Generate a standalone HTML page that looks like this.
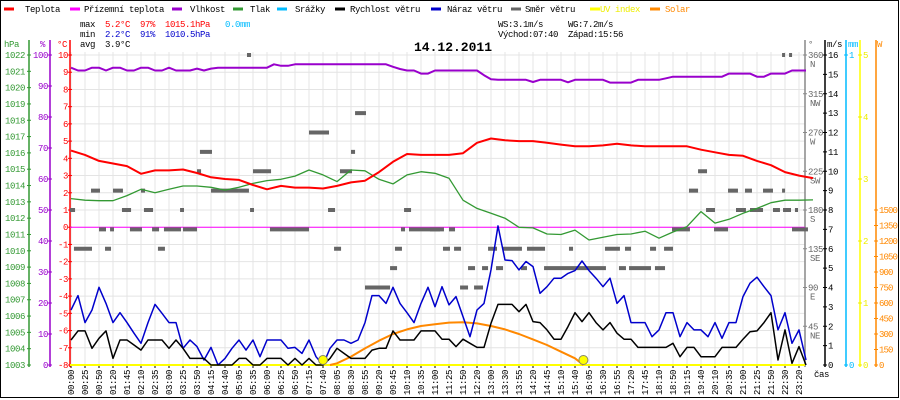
<!DOCTYPE html>
<html><head><meta charset="utf-8"><style>
html,body{margin:0;padding:0;background:#fff;}
svg{display:block;font-family:"Liberation Mono",monospace;}
</style></head><body>
<svg id="chart" width="900" height="400" viewBox="0 0 900 400" xmlns="http://www.w3.org/2000/svg">
<rect x="0.5" y="0.5" width="898" height="397" fill="#fff" stroke="#000"/>
<g id="grid"></g>
<g id="legend" font-size="9" letter-spacing="-0.4">
  <line x1="4" y1="9" x2="14" y2="9" stroke="#f00" stroke-width="3"/><text x="25" y="12">Teplota</text>
  <line x1="70" y1="9" x2="80" y2="9" stroke="#f0f" stroke-width="3"/><text x="84" y="12">Přízemní teplota</text>
  <line x1="172" y1="9" x2="182" y2="9" stroke="#90c" stroke-width="3"/><text x="190" y="12">Vlhkost</text>
  <line x1="233" y1="9" x2="243" y2="9" stroke="#393" stroke-width="3"/><text x="250" y="12">Tlak</text>
  <line x1="277" y1="9" x2="287" y2="9" stroke="#0bf" stroke-width="3"/><text x="295" y="12">Srážky</text>
  <line x1="335" y1="9" x2="345" y2="9" stroke="#000" stroke-width="3"/><text x="350" y="12">Rychlost větru</text>
  <line x1="431" y1="9" x2="441" y2="9" stroke="#00c" stroke-width="3"/><text x="447" y="12">Náraz větru</text>
  <line x1="511" y1="9" x2="521" y2="9" stroke="#666" stroke-width="3"/><text x="525" y="12">Směr větru</text>
  <line x1="590" y1="9" x2="600" y2="9" stroke="#ff0" stroke-width="3"/><text x="600" y="12" fill="#ee0">UV index</text>
  <line x1="650" y1="9" x2="660" y2="9" stroke="#f80" stroke-width="3"/><text x="665" y="12" fill="#f80">Solar</text>
</g>
<g id="stats" font-size="9" letter-spacing="-0.4">
  <text x="80" y="27">max</text><text x="105" y="27" fill="#f00">5.2°C</text><text x="140" y="27" fill="#f00">97%</text><text x="165" y="27" fill="#f00">1015.1hPa</text><text x="225" y="27" fill="#0bf">0.0mm</text>
  <text x="80" y="37">min</text><text x="105" y="37" fill="#00c">2.2°C</text><text x="140" y="37" fill="#00c">91%</text><text x="165" y="37" fill="#00c">1010.5hPa</text>
  <text x="80" y="47">avg</text><text x="105" y="47">3.9°C</text>
  <text x="498" y="27">WS:3.1m/s</text><text x="568" y="27">WG:7.2m/s</text>
  <text x="498" y="37">Východ:07:40</text><text x="568" y="37">Západ:15:56</text>
  <text x="414" y="51" font-size="13" font-weight="bold" letter-spacing="0">14.12.2011</text>
</g>
<g id="axes" font-size="9" letter-spacing="-0.4"></g>
<g id="series"></g>
</svg>
<script>
// ---- data ----
const timeLabels=["00:00","00:25","00:50","01:20","01:45","02:10","02:35","03:00","03:25","03:50","04:15","04:40","05:05","05:35","06:00","06:25","06:50","07:15","07:40","08:05","08:30","08:55","09:20","09:45","10:10","10:35","11:00","11:25","11:50","12:20","13:00","13:30","13:55","14:20","14:45","15:10","15:40","16:05","16:30","16:55","17:20","17:45","18:10","18:50","19:15","19:40","20:10","20:35","21:00","21:25","21:50","22:30","23:20"];
const temperature=[4.45,4.2,3.85,3.7,3.55,3.1,3.3,3.3,3.35,3.15,2.9,2.8,2.75,2.45,2.2,2.4,2.3,2.3,2.25,2.4,2.6,2.7,3.2,3.8,4.25,4.2,4.2,4.2,4.3,4.9,5.15,5.05,5.0,5.0,4.9,4.8,4.7,4.7,4.75,4.85,4.75,4.7,4.7,4.7,4.7,4.5,4.35,4.2,4.15,3.85,3.6,3.2,3.0,2.85];
const pressure=[1013.2,1013.1,1013.07,1013.07,1013.38,1013.77,1013.56,1013.77,1013.97,1013.97,1013.89,1013.72,1013.89,1014.13,1014.3,1014.38,1014.58,1014.95,1014.65,1014.24,1014.95,1014.9,1014.38,1014.1,1014.65,1014.85,1014.75,1014.45,1013.1,1012.6,1012.3,1012.0,1011.44,1011.4,1011.03,1011.0,1011.27,1010.66,1010.83,1011.0,1011.03,1011.2,1010.77,1011.15,1011.48,1012.4,1011.7,1011.93,1012.3,1012.6,1012.95,1013.1,1013.1,1013.12];
const humidity=[95.9,95,95,95.9,95.9,95,95.9,95.9,95,95,95.9,95.9,95,95,95.9,95,95,95,95.6,95,95.6,95.9,95.9,95.9,95.9,95.9,95.9,95.9,95.9,97,96.5,96.5,97,97,97,97,97,97,97,97,97,97,97,97,97,97,96.2,95.5,95,95,94,94,95,95,95,95,95,95,95,93.5,92.2,92,92,92,92,92,91.3,92,92,92,92,91.2,92,92,92,92,92,91.1,91.1,91.1,91.1,92,92,92,92,92.5,93,93,93,93,93,93,93,93,94,94,94,94,93,93,94,94,94,95,95,95];
const windSpeed=[1.29,1.76,1.76,0.86,1.38,1.76,0.34,1.29,1.29,1.03,0.77,1.29,1.29,1.29,0.86,1.29,0.86,0.34,0.34,0.34,0,0,0,0,0.34,0.34,0,0,0.34,0.34,0.34,0,0.34,0,0.34,0,0,0.34,0.86,0.6,0.34,0.34,0.34,0.77,0.86,0.86,1.76,1.29,1.29,1.29,1.76,1.76,1.76,1.33,1.33,0.95,1.33,1.12,0.91,0.91,2.15,3.13,3.13,3.13,2.75,3.13,2.24,2.19,1.81,1.33,1.33,1.98,2.70,2.24,2.70,2.19,1.81,2.19,1.64,1.33,1.33,0.91,0.91,0.91,0.91,0.91,1.12,0.43,0.91,0.91,0.43,0.43,0.43,0.91,0.91,0.91,1.33,1.72,1.76,2.19,2.70,0.26,1.81,0.09,0.95,0];
const windGust=[2.84,3.58,2.19,2.84,4.01,3.18,2.19,2.70,2.19,1.64,1.12,2.19,3.13,2.67,2.19,2.19,0.86,1.29,0.95,0.26,0.91,0,0.34,0.86,1.29,0.77,1.29,0.43,1.29,1.29,1.29,0.86,0.91,0.6,1.29,0.43,0,0.86,1.29,1.29,1.12,1.29,2.19,3.58,3.58,3.18,4.01,3.18,2.70,2.19,3.18,4.01,3.01,4.04,3.10,3.53,2.50,1.46,2.84,3.18,4.91,7.18,5.42,5.39,4.91,5.34,5.08,3.70,4.04,4.48,4.48,4.73,4.87,5.37,4.87,4.48,4.04,4.48,3.18,3.58,2.19,2.19,2.19,1.46,1.81,2.70,2.70,1.46,2.19,1.81,1.81,1.46,2.19,1.38,2.19,2.19,3.53,4.22,4.53,4.04,3.58,1.81,2.70,1.12,1.81,0.26];
const solarIndex=[18.5,19,20,21,22,23,24,25,26,27,28,29,30,31,32,33,34,35,36,36.6];
const solarValues=[0,16,81,161,235,300,345,377,394,410,413,403,377,345,300,248,194,129,65,0];
const sunEvents=[18,36.6];
const dirStart=[17.0,9.21,20,13,19.21,9,1.43,3,5,10,3.64,5.21,7.79,12.79,18.36,23.79,-0.07,2,2.79,4.21,5.79,6.64,8,14.21,23.57,24.14,0.21,2.43,6.21,18.79,23.14,22.79,21,20.29,12.57,50.79,51.29,44.79,44.14,46.93,48.14,49.43,50.79,45.36,47.5,48.5,50.14,50.86,51.71,25.64,27,42.93,45.93,51.5,26.57,27.36,29.79,30.86,32.57,35.57,38.14,39.57,41.36,42.36,28.36,29.36,30.36,32.14,33.79,39.14,39.86,41.71,27.79,28.79];
const dirEnd=[18.43,10.07,20.29,14.29,20.07,9.29,2.07,3.71,5.29,12.71,4.29,5.86,8.07,13.07,18.86,24.29,0.29,2.5,3.07,5.07,6.29,7.86,9,17,23.86,26.36,1.5,2.86,6.71,19.29,23.64,23.29,22.79,21.07,12.86,51,51.5,45.43,44.79,47.64,48.64,50.14,51,46,48.21,49.43,50.64,51.43,51.93,26.64,27.43,44.21,46.93,52.64,27.07,27.86,30.43,32.21,33.86,35.86,39.21,40,41.79,43,28.86,29.79,30.86,32.57,38.21,39.64,41.43,42.43,28.36,29.43];
const dirDeg=[270,247.5,247.5,225,225,225,202.5,202.5,202.5,202.5,180,180,180,180,180,180,180,157.5,157.5,157.5,157.5,157.5,157.5,157.5,157.5,157.5,135,135,135,135,135,112.5,90,292.5,360,360,360,225,202.5,202.5,202.5,202.5,202.5,180,180,180,180,180,180,157.5,157.5,157.5,157.5,157.5,135,135,135,135,135,135,135,135,135,135,112.5,112.5,112.5,112.5,112.5,112.5,112.5,112.5,90,90];
const tempTicks=[10,9,8,7,6,5,4,3,2,1,0,-1,-2,-3,-4,-5,-6,-7,-8];
const pressTicks=[1022,1021,1020,1019,1018,1017,1016,1015,1014,1013,1012,1011,1010,1009,1008,1007,1006,1005,1004,1003];
const humTicks=[100,90,80,70,60,50,40,30,20,10,0];
const windTicks=[16,15,14,13,12,11,10,9,8,7,6,5,4,3,2,1,0];
const dirTicks=[360,315,270,225,180,135,90,45];
const dirNames=["N","NW","W","SW","S","SE","E","NE"];
const uvTicks=[5,4,3,2,1,0];
const solarTicks=[1500,1350,1200,1050,900,750,600,450,300,150,0];

// ---- scales ----
const TOP=55,BOT=365,H=BOT-TOP;
const X=u=>71+14*u;
const yT=t=>TOP+(10-t)/18*H;
const yP=p=>TOP+(1022-p)/19*H;
const yH=h=>TOP+(100-h)/100*H;
const yW=w=>TOP+(16-w)/16*H;
const yD=d=>TOP+(360-d)/360*H;
const yUV=v=>TOP+(5-v)/5*H;
const yS=s=>BOT-s/1500*155;

const NS="http://www.w3.org/2000/svg";
function mk(tag,attrs,parent,txt){const e=document.createElementNS(NS,tag);for(const k in attrs)e.setAttribute(k,attrs[k]);if(txt!==undefined)e.textContent=txt;parent.appendChild(e);return e;}
const grid=document.getElementById('grid'),axes=document.getElementById('axes'),series=document.getElementById('series');

tempTicks.forEach(t=>{const l=mk('line',{x1:70,x2:805,y1:yT(t),y2:yT(t),stroke:'#e4e4e4','stroke-width':1},grid);

});
timeLabels.forEach((s,i)=>{const l=mk('line',{x1:X(i),x2:X(i),y1:TOP-3,y2:BOT+3,stroke:'#e4e4e4','stroke-width':1},grid);


const tk=mk('line',{x1:X(i),x2:X(i),y1:BOT,y2:BOT+3,stroke:'#000'},grid);


const t=mk('text',{x:0,y:0,transform:`translate(${X(i)+3},370) rotate(-90)`,'text-anchor':'end','font-size':9},axes,s);

});
const cas=mk('text',{x:814,y:377,'font-size':9},axes,'čas');


const zl=mk('line',{x1:70,x2:805,y1:yT(0),y2:yT(0),stroke:'#f0f','stroke-width':1},series);


const uvl=mk('line',{x1:70,x2:805,y1:BOT,y2:BOT,stroke:'#ff0','stroke-width':2},series);



function vaxis(x,color,name){const l=mk('line',{x1:x,x2:x,y1:40,y2:367,stroke:color,'stroke-width':1.5},axes);

}
vaxis(29,'#393','pressure-axis');vaxis(50,'#90c','humidity-axis');vaxis(70,'#f00','temperature-axis');
vaxis(805,'#888','direction-axis');vaxis(825,'#000','wind-axis');vaxis(846,'#0bf','rain-axis');vaxis(860,'#ff0','uv-axis');vaxis(876,'#f80','solar-axis');
function lbl(x,y,s,color,anchor,name){const t=mk('text',{x:x,y:y,fill:color,'text-anchor':anchor||'start'},axes,s);

return t;}
function tick(x,y,color){const l=mk('line',{x1:x-2,x2:x+2,y1:y,y2:y,stroke:color},axes);

}
pressTicks.forEach(p=>{tick(29,yP(p),'#393');lbl(25,yP(p)+3,String(p),'#393','end','pressure-tick-label');});
humTicks.forEach(h=>{tick(50,yH(h),'#90c');lbl(48,yH(h)+3,String(h),'#90c','end','humidity-tick-label');});
tempTicks.forEach(t=>{tick(70,yT(t),'#f00');lbl(68,yT(t)+3,String(t),'#f00','end','temperature-tick-label');});
dirTicks.forEach((d,i)=>{tick(805,yD(d),'#888');lbl(808,yD(d)+3,String(d),'#666','start','direction-tick-label');lbl(810,yD(d)+12,dirNames[i],'#666','start','direction-name-label');});
windTicks.forEach(w=>{tick(825,yW(w),'#000');lbl(828,yW(w)+3,String(w),'#000','start','wind-tick-label');});
tick(846,TOP,'#0bf');lbl(849,TOP+3,'1','#0bf','start','rain-tick-label');tick(846,BOT,'#0bf');lbl(849,BOT+3,'0','#0bf','start','rain-tick-label');
uvTicks.forEach(v=>{tick(860,yUV(v),'#ee0');lbl(863,yUV(v)+3,String(v),'#ee0','start','uv-tick-label');});
solarTicks.forEach(s=>{tick(876,yS(s),'#f80');const t=lbl(879,yS(s)+3,String(s),'#f80','start','solar-tick-label');t.setAttribute('letter-spacing','-0.9');});
lbl(4,47,'hPa','#393','start','pressure-axis-title');lbl(40,47,'%','#90c','start','humidity-axis-title');lbl(57,47,'°C','#f00','start','temperature-axis-title');
lbl(808,47,'°','#666','start','direction-axis-title');lbl(827,47,'m/s','#000','start','wind-axis-title');lbl(848,47,'mm','#0bf','start','rain-axis-title');lbl(877,47,'W','#f80','start','solar-axis-title');

dirDeg.forEach((d,i)=>{const r=mk('rect',{x:X(dirStart[i]),y:yD(d)-2,width:Math.max(3,X(dirEnd[i])-X(dirStart[i])),height:4,fill:'#666'},series);

});

function poly(vals,xf,yf,color,w,name){const pts=vals.map((v,i)=>xf(i).toFixed(1)+','+yf(v).toFixed(1)).join(' ');
const p=mk('polyline',{points:pts,fill:'none',stroke:color,'stroke-width':w,'stroke-linejoin':'round'},series);

}
poly(humidity,i=>X(i*0.5),yH,'#90c',2,'humidity-line');
poly(pressure,i=>X(i),yP,'#393',1.3,'pressure-line');
poly(temperature,i=>X(i),yT,'#f00',2,'temperature-line');
poly(solarValues,i=>X(solarIndex[i]),yS,'#f80',2,'solar-line');
poly(windGust,i=>X(i*0.5),yW,'#00c',1.5,'wind-gust-line');
poly(windSpeed,i=>X(i*0.5),yW,'#000',1.5,'wind-speed-line');
sunEvents.forEach((u,i)=>{const c=mk('circle',{cx:X(u),cy:BOT-5,r:4.5,fill:'#ff0',stroke:'#886','stroke-width':1},series);

});
</script>
</body></html>
